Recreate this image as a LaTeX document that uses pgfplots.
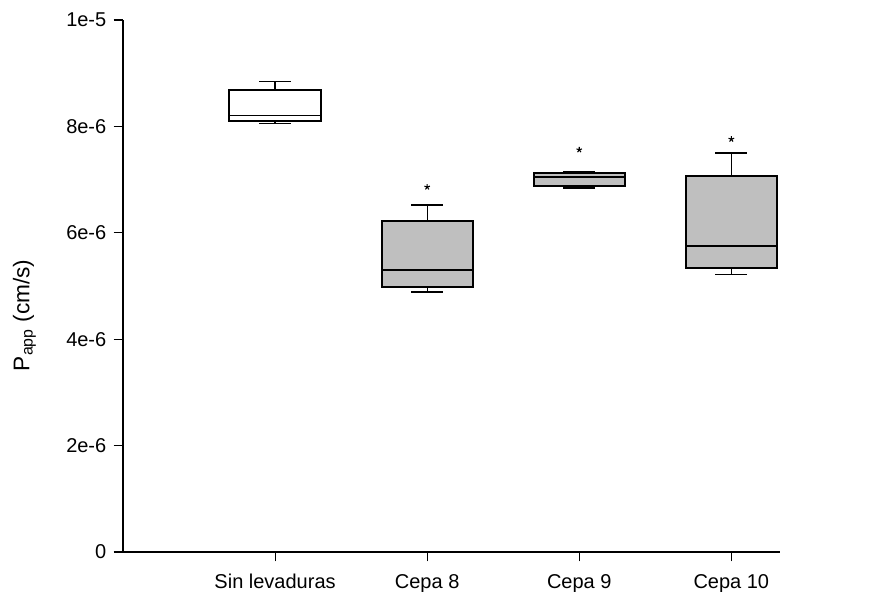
\documentclass[border=0pt]{standalone}
\usepackage{fontspec}
\setmainfont{Liberation Sans}
\usepackage{pgfplots}
\pgfplotsset{compat=1.18}
\usepgfplotslibrary{statistics}

\begin{document}
\begin{tikzpicture}
  % page = 874 x 592 px at 0.75pt per px, axis origin at (0,0)
  \useasboundingbox (-92.25pt,-30pt) rectangle (563.25pt,414pt);
  \begin{axis}[
      at={(0pt,0pt)}, anchor=south west,
      scale only axis,
      width=492.75pt, height=399pt,
      xmin=0, xmax=4.32,
      ymin=0, ymax=10,
      axis lines=left,
      axis line style={-, line width=0.8pt},
      tick align=outside,
      major tick length=7pt,
      tick style={black, line width=0.8pt},
      xtick={1,2,3,4},
      xticklabels={Sin levaduras,Cepa 8,Cepa 9,Cepa 10},
      ytick={0,2,4,6,8,10},
      yticklabels={0,2e-6,4e-6,6e-6,8e-6,1e-5},
      ticklabel style={font=\fontsize{15}{18}\selectfont},
      xticklabel style={yshift=-6pt},
      yticklabel style={xshift=-2pt},
      ylabel={P\textsubscript{app} (cm/s)},
      ylabel style={font=\fontsize{17}{20}\selectfont,
        at={(axis description cs:-0.150,0.445)}, anchor=center},
      boxplot/draw direction=y,
      clip=false,
    ]
    % values in units of 1e-6 cm/s
    \addplot[draw=black, fill=white, line width=1.5pt,
      boxplot prepared={draw position=1,
        lower whisker=8.06, lower quartile=8.10, median=8.20,
        upper quartile=8.68, upper whisker=8.85,
        box extend=0.6, whisker extend=0.21,
        every median/.style={line width=1pt},
        every whisker/.style={line width=1pt}}]
      coordinates {};
    \addplot[draw=black, fill=black!25, line width=1.5pt,
      boxplot prepared={draw position=2,
        lower whisker=4.89, lower quartile=4.98, median=5.30,
        upper quartile=6.22, upper whisker=6.52,
        box extend=0.6, whisker extend=0.21,
        every median/.style={line width=1pt},
        every whisker/.style={line width=1pt}}]
      coordinates {};
    \addplot[draw=black, fill=black!25, line width=1.5pt,
      boxplot prepared={draw position=3,
        lower whisker=6.84, lower quartile=6.88, median=7.05,
        upper quartile=7.12, upper whisker=7.14,
        box extend=0.6, whisker extend=0.21,
        every median/.style={line width=1pt},
        every whisker/.style={line width=1pt}}]
      coordinates {};
    \addplot[draw=black, fill=black!25, line width=1.5pt,
      boxplot prepared={draw position=4,
        lower whisker=5.21, lower quartile=5.34, median=5.75,
        upper quartile=7.07, upper whisker=7.50,
        box extend=0.6, whisker extend=0.21,
        every median/.style={line width=1pt},
        every whisker/.style={line width=1pt}}]
      coordinates {};
    % significance marks
    \addplot[only marks, mark=star, mark size=2.2pt, black,
      mark options={line width=0.8pt}]
      coordinates {(2,6.86) (3,7.56) (4,7.76)};
  \end{axis}
\end{tikzpicture}
\end{document}
